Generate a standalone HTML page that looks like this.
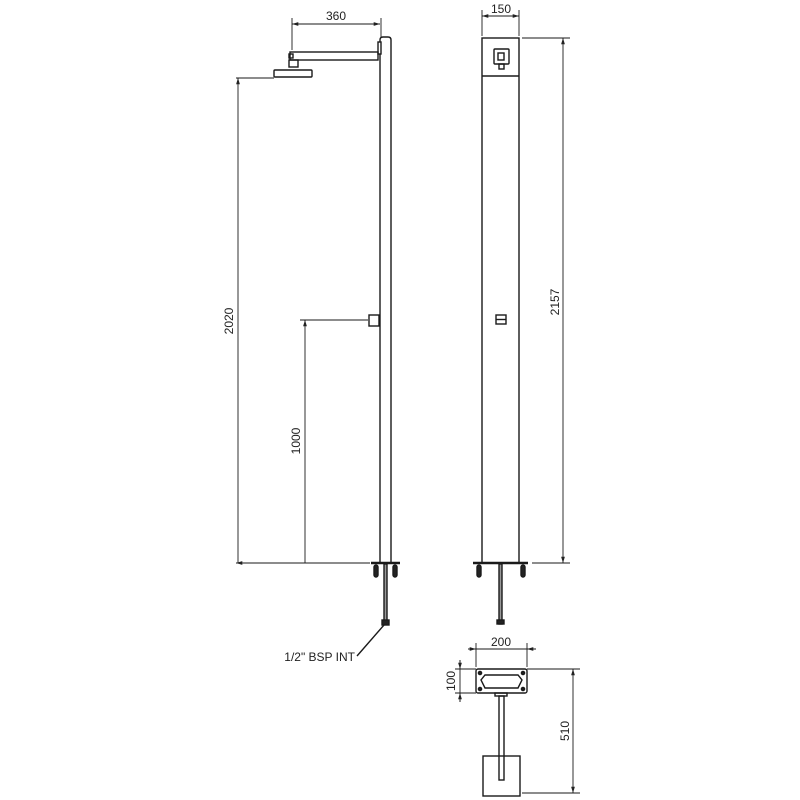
<!DOCTYPE html>
<html><head><meta charset="utf-8"><style>
html,body{margin:0;padding:0;background:#fff;}
svg{display:block;}
text{font-family:"Liberation Sans",sans-serif;font-size:12px;fill:#222;}
</style></head><body>
<svg width="800" height="800" viewBox="0 0 800 800" xmlns="http://www.w3.org/2000/svg">
<defs>
<marker id="a" viewBox="0 0 10 10" refX="10" refY="5" markerWidth="7" markerHeight="7" orient="auto-start-reverse"><path d="M0,2 L10,5 L0,8 z" fill="#222"/></marker>
</defs>
<g stroke="#1a1a1a" stroke-width="1.4" fill="none">
<path d="M380,563 L380,40 Q380,37 383,37 L388,37 Q391,37 391,40 L391,563"/>
<rect x="378" y="42" width="3" height="12" fill="#fff"/>
<rect x="290" y="52" width="88" height="8"/>
<rect x="289" y="54" width="4" height="4"/>
<rect x="289" y="60" width="9" height="7"/>
<rect x="274" y="70" width="38" height="7" rx="1"/>
<rect x="369" y="315" width="10" height="11"/>
<line x1="371" y1="563" x2="400" y2="563" stroke-width="2.5"/>
<rect x="374" y="565" width="4" height="12" rx="2" fill="#222"/>
<rect x="393" y="565" width="4" height="12" rx="2" fill="#222"/>
<rect x="384" y="564" width="3" height="60" fill="#999"/>
<rect x="382" y="620" width="7" height="5" fill="#222"/>
<line x1="384" y1="625" x2="357" y2="656"/>
<line x1="292" y1="50" x2="292" y2="18" stroke-width="0.9"/>
<line x1="381" y1="38" x2="381" y2="18" stroke-width="0.9"/>
<line x1="292" y1="24" x2="380" y2="24" stroke-width="0.9" marker-start="url(#a)" marker-end="url(#a)"/>
<line x1="236" y1="78" x2="274" y2="78" stroke-width="0.9"/>
<line x1="238" y1="78" x2="238" y2="563" stroke-width="0.9" marker-start="url(#a)"/>
<line x1="300" y1="320" x2="368" y2="320" stroke-width="0.9"/>
<line x1="305" y1="320" x2="305" y2="563" stroke-width="0.9" marker-start="url(#a)"/>
<line x1="236" y1="563" x2="370" y2="563" stroke-width="0.9" marker-start="url(#a)"/>
<rect x="482" y="38" width="37" height="525"/>
<line x1="482" y1="76" x2="519" y2="76"/>
<rect x="494" y="49" width="15" height="15" rx="1"/>
<rect x="498" y="53" width="6" height="7"/>
<rect x="499" y="64" width="5" height="5"/>
<rect x="496" y="315" width="10" height="9"/>
<line x1="496" y1="319.5" x2="506" y2="319.5"/>
<line x1="473" y1="563" x2="528" y2="563" stroke-width="2.5"/>
<rect x="477" y="565" width="4" height="12" rx="2" fill="#222"/>
<rect x="521" y="565" width="4" height="12" rx="2" fill="#222"/>
<rect x="499" y="564" width="3" height="60" fill="#999"/>
<rect x="497" y="620" width="7" height="4" fill="#222"/>
<line x1="482" y1="36" x2="482" y2="10" stroke-width="0.9"/>
<line x1="519" y1="36" x2="519" y2="10" stroke-width="0.9"/>
<line x1="482" y1="16" x2="519" y2="16" stroke-width="0.9" marker-start="url(#a)" marker-end="url(#a)"/>
<line x1="522" y1="38" x2="570" y2="38" stroke-width="0.9"/>
<line x1="532" y1="563" x2="570" y2="563" stroke-width="0.9"/>
<line x1="563" y1="38" x2="563" y2="563" stroke-width="0.9" marker-start="url(#a)" marker-end="url(#a)"/>
<rect x="476" y="669" width="51" height="24" rx="2"/>
<path d="M485,675 L518,675 L522,680 L518,688 L485,688 L481,680 Z"/>
<g fill="#222"><circle cx="480" cy="673" r="1.6"/><circle cx="523" cy="673" r="1.6"/><circle cx="480" cy="689" r="1.6"/><circle cx="523" cy="689" r="1.6"/></g>
<rect x="495" y="693" width="12" height="3"/>
<rect x="499" y="696" width="5" height="84"/>
<rect x="483" y="756" width="37" height="40"/>
<line x1="476" y1="667" x2="476" y2="643" stroke-width="0.9"/>
<line x1="527" y1="667" x2="527" y2="643" stroke-width="0.9"/>
<line x1="468" y1="649" x2="536" y2="649" stroke-width="0.9"/>
<line x1="470" y1="649" x2="476" y2="649" stroke-width="0.9" marker-end="url(#a)"/>
<line x1="533" y1="649" x2="527" y2="649" stroke-width="0.9" marker-end="url(#a)"/>
<line x1="455" y1="669" x2="476" y2="669" stroke-width="0.9"/>
<line x1="455" y1="693" x2="476" y2="693" stroke-width="0.9"/>
<line x1="460" y1="660" x2="460" y2="702" stroke-width="0.9"/>
<line x1="460" y1="660" x2="460" y2="669" stroke-width="0.9" marker-end="url(#a)"/>
<line x1="460" y1="702" x2="460" y2="693" stroke-width="0.9" marker-end="url(#a)"/>
<line x1="527" y1="669" x2="580" y2="669" stroke-width="0.9"/>
<line x1="522" y1="793" x2="580" y2="793" stroke-width="0.9"/>
<line x1="573" y1="669" x2="573" y2="793" stroke-width="0.9" marker-start="url(#a)" marker-end="url(#a)"/>
</g>
<g stroke="none">
<text x="336" y="20" text-anchor="middle">360</text>
<text x="501" y="13" text-anchor="middle">150</text>
<text x="501" y="646" text-anchor="middle">200</text>
<text x="355" y="661" text-anchor="end">1/2" BSP INT</text>
<text transform="translate(233,321) rotate(-90)" text-anchor="middle">2020</text>
<text transform="translate(300,441) rotate(-90)" text-anchor="middle">1000</text>
<text transform="translate(559,302) rotate(-90)" text-anchor="middle">2157</text>
<text transform="translate(455,681) rotate(-90)" text-anchor="middle">100</text>
<text transform="translate(569,731) rotate(-90)" text-anchor="middle">510</text>
</g>
</svg>
</body></html>
